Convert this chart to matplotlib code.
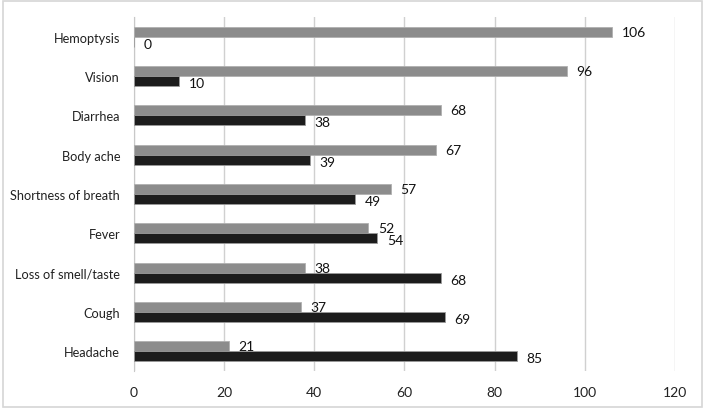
import matplotlib.pyplot as plt
import numpy as np
from matplotlib.patches import Rectangle

plt.rcParams['font.family'] = ['Lato', 'DejaVu Sans']

categories = ['Headache', 'Cough', 'Loss of smell/taste', 'Fever', 'Shortness of breath',
              'Body ache', 'Diarrhea', 'Vision', 'Hemoptysis']
gray_vals = [21, 37, 38, 52, 57, 67, 68, 96, 106]
black_vals = [85, 69, 68, 54, 49, 39, 38, 10, 0]

fig = plt.figure(figsize=(7.05, 4.10), dpi=100)
ax = fig.add_axes([0.190, 0.093, 0.7675, 0.863])

y = np.arange(len(categories))
h = 0.255

ax.barh(y + h / 2, gray_vals, h, color='#8c8c8c', edgecolor='#b0b0b0', linewidth=0.6, zorder=3)
ax.barh(y - h / 2, black_vals, h, color='#1c1c1c', edgecolor='#9a9a9a', linewidth=0.6, zorder=3)

fs = 10
for yi, v in zip(y, gray_vals):
    ax.text(v + 2.1, yi + h / 2, str(v), va='center', ha='left', fontsize=fs, color='#111111')
for yi, v in zip(y, black_vals):
    ax.text(v + 2.1, yi - h / 2 - 0.05, str(v), va='center', ha='left', fontsize=fs, color='#111111')

ax.set_xlim(0, 120)
ax.set_ylim(-0.5, len(categories) - 0.5)
ax.set_xticks(range(0, 121, 20))
ax.set_yticks(y)
ax.set_yticklabels(categories)
ax.tick_params(axis='x', length=0, labelsize=fs, colors='#222222', pad=11)
ax.tick_params(axis='y', length=0, labelsize=9.2, colors='#222222', pad=10)
ax.grid(axis='x', color='#d0d0d0', linewidth=1, zorder=0)
for s in ['top', 'right', 'bottom']:
    ax.spines[s].set_visible(False)
ax.spines['left'].set_color('#c8c8c8')

fig.patches.append(Rectangle((0.004, 0.005), 0.992, 0.99, transform=fig.transFigure,
                             fill=False, edgecolor='#d6d6d6', linewidth=1.2))

fig.savefig('out.png', dpi=100)
